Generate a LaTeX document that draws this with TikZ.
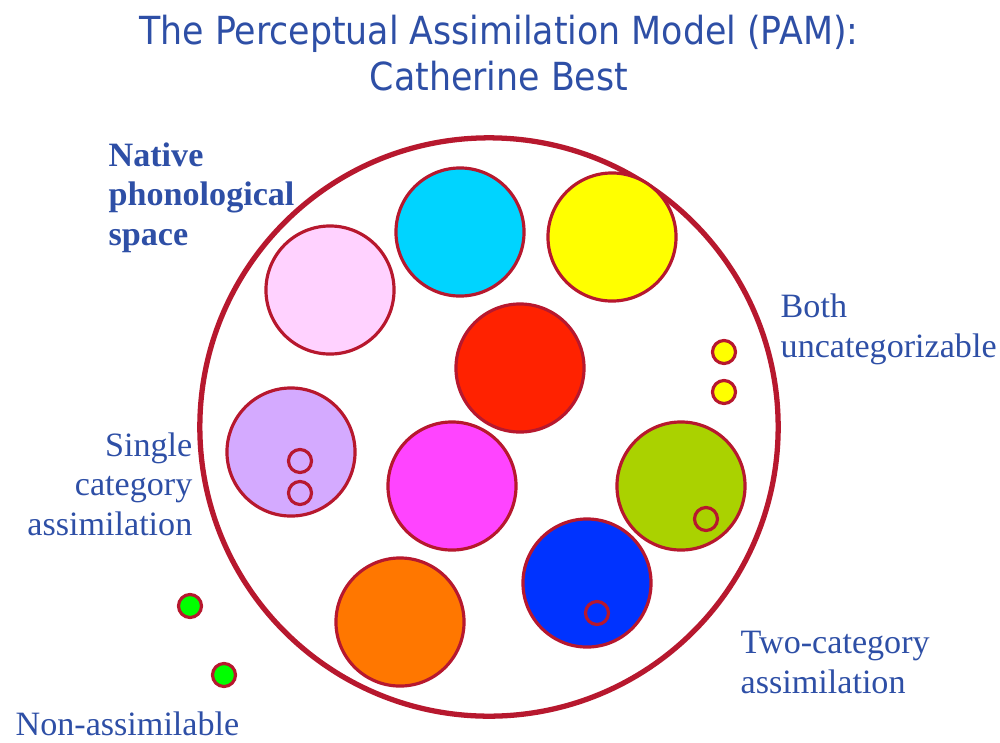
\documentclass[tikz,border=0pt]{standalone}
\usepackage{fontspec}
\setmainfont{Liberation Serif}
\newfontfamily\titlefont{DejaVu Sans Condensed}
\definecolor{pamblue}{HTML}{2E4FA6}
\definecolor{pamred}{HTML}{B7182E}
\definecolor{pamcyan}{HTML}{00D4FF}
\definecolor{pamyellow}{HTML}{FFFF00}
\definecolor{pampink}{HTML}{FFD2FF}
\definecolor{pamscarlet}{HTML}{FF2200}
\definecolor{pamlilac}{HTML}{D4AAFF}
\definecolor{pammagenta}{HTML}{FF44FF}
\definecolor{pamlime}{HTML}{AAD200}
\definecolor{pamroyal}{HTML}{0033FF}
\definecolor{pamorange}{HTML}{FF7700}
\definecolor{pamgreen}{HTML}{00FF00}
\tikzset{
  category/.style={circle, draw=pamred, line width=0.9pt, minimum size=1.28cm, inner sep=0pt},
  sound/.style={circle, draw=pamred, line width=0.9pt, minimum size=0.23cm, inner sep=0pt},
  lbl/.style={text=pamblue, font=\fontsize{9.7}{11.1}\selectfont, inner sep=0pt}
}
\begin{document}
\begin{tikzpicture}[x=0.01cm,y=-0.01cm]
        \useasboundingbox (0,0) rectangle (1000,742);
        % Title
        \node[text=pamblue, font=\titlefont\fontsize{11}{12.8}\selectfont, align=center, anchor=base] (title) at (499,90)
          {The Perceptual Assimilation Model (PAM):\\Catherine Best};

        % Native space
        \node[circle, draw=pamred, line width=1.5pt, minimum size=5.78cm, inner sep=0pt] (space) at (489,427) {};

        % Categories
        \node[category, fill=pampink] (cat1) at (330,290) {};
        \node[category, fill=pamcyan] (cat2) at (460,232) {};
        \node[category, fill=pamyellow] (cat3) at (612,237) {};
        \node[category, fill=pamscarlet] (cat4) at (520,368) {};
        \node[category, fill=pamlilac] (cat5) at (291,452) {};
        \node[category, fill=pammagenta] (cat6) at (452,486) {};
        \node[category, fill=pamlime] (cat7) at (681,486) {};
        \node[category, fill=pamroyal] (cat8) at (587,583) {};
        \node[category, fill=pamorange] (cat9) at (400,622) {};

        % Non-native sounds
        \node[sound] (single1) at (300,461) {};
        \node[sound] (single2) at (300,493) {};
        \node[sound] (two1) at (706,519) {};
        \node[sound] (two2) at (597,613) {};
        \node[sound, fill=pamyellow] (unc1) at (724,352) {};
        \node[sound, fill=pamyellow] (unc2) at (724,392) {};
        \node[sound, fill=pamgreen] (non1) at (190,606) {};
        \node[sound, fill=pamgreen] (non2) at (224,675) {};

        % Labels
        \node[lbl, font=\bfseries\fontsize{9.7}{11.1}\selectfont, align=left, anchor=base west] (native) at (108,245)
          {Native\\phonological\\space};
        \node[lbl, align=left, anchor=base west] (both) at (780,357) {Both\\uncategorizable};
        \node[lbl, align=right, anchor=base east] (single) at (193,535) {Single\\category\\assimilation};
        \node[lbl, align=left, anchor=base west] (twocat) at (740,693) {Two-category\\assimilation};
        \node[lbl, anchor=base west] (nonassim) at (15,735) {Non-assimilable};
    \end{tikzpicture}
\end{document}
